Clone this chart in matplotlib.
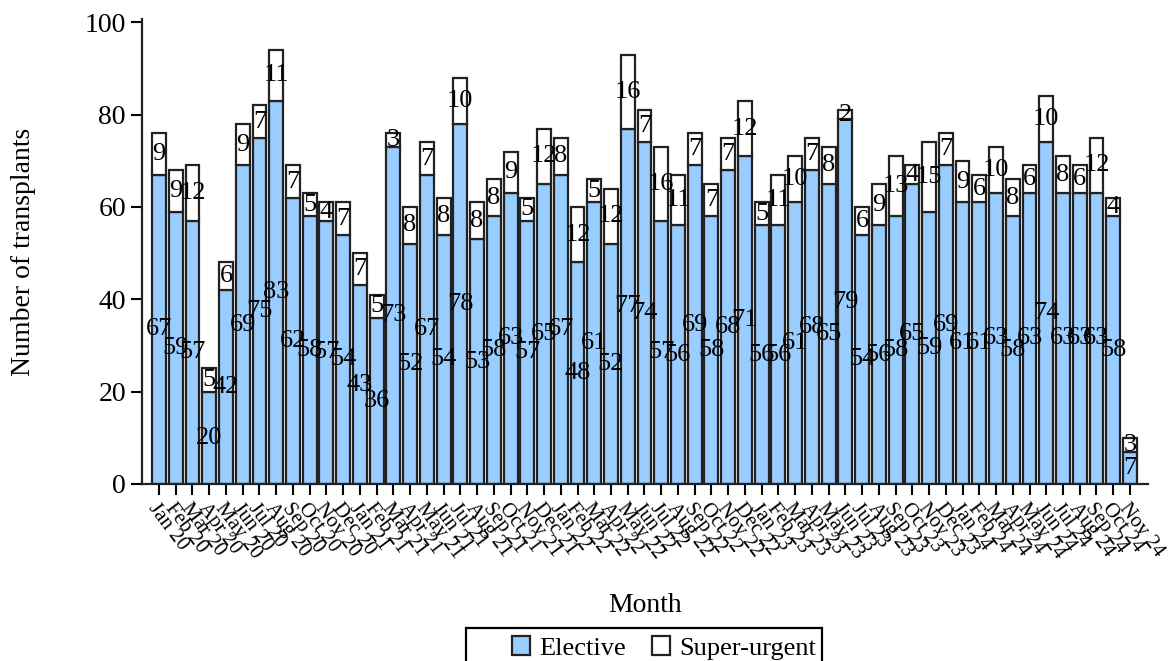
import numpy as np
import matplotlib
matplotlib.use("Agg")
import matplotlib.pyplot as plt
from matplotlib.patches import Rectangle

plt.rcParams['font.family'] = ['Liberation Serif', 'DejaVu Serif']

# month labels Jan 20 .. Nov 24
month_names = ["Jan", "Feb", "Mar", "Apr", "May", "Jun",
               "Jul", "Aug", "Sep", "Oct", "Nov", "Dec"]
years = ["20", "21", "22", "23", "24"]
months = [m + " " + y for y in years for m in month_names][:59]

elective = [67, 59, 57, 20, 42, 69, 75, 83, 62, 58, 57, 54,
            43, 36, 73, 52, 67, 54, 78, 53, 58, 63, 57, 65,
            67, 48, 61, 52, 77, 74, 57, 56, 69, 58, 68, 71,
            56, 56, 61, 68, 65, 79, 54, 56, 58, 65, 59, 69,
            61, 61, 63, 58, 63, 74, 63, 63, 63, 58, 7]
super_urgent = [9, 9, 12, 5, 6, 9, 7, 11, 7, 5, 4, 7,
                7, 5, 3, 8, 7, 8, 10, 8, 8, 9, 5, 12,
                8, 12, 5, 12, 16, 7, 16, 11, 7, 7, 7, 12,
                5, 11, 10, 7, 8, 2, 6, 9, 13, 4, 15, 7,
                9, 6, 10, 8, 6, 10, 8, 6, 12, 4, 3]

x = np.arange(len(months))
elective = np.array(elective)
super_urgent = np.array(super_urgent)

fig = plt.figure(figsize=(11.73, 6.61), dpi=100)
ax = fig.add_axes([0.121, 0.268, 0.858, 0.703])

b1 = ax.bar(x, elective, width=0.83, color="#99CCFF", edgecolor="#222222",
            linewidth=1.6, label="Elective")
b2 = ax.bar(x, super_urgent, width=0.83, bottom=elective, color="white",
            edgecolor="#222222", linewidth=1.6, label="Super-urgent")

# value labels in the middle of each segment
for xi, e, s in zip(x, elective, super_urgent):
    ax.text(xi, e / 2, str(e), ha="center", va="center", fontsize=19)
    ax.text(xi, e + s / 2, str(s), ha="center", va="center", fontsize=19)

ax.set_xlim(-1.02, 59.1)
ax.set_ylim(0, 100.7)
ax.set_yticks([0, 20, 40, 60, 80, 100])
ax.set_xticks(x)
ax.set_xticklabels(months, rotation=-53, ha="left", va="top",
                   rotation_mode="anchor", fontsize=15)
ax.tick_params(axis="y", labelsize=20, length=8, width=1.5)
ax.tick_params(axis="x", length=8, width=1.5)

for side in ["top", "right"]:
    ax.spines[side].set_visible(False)
for side in ["left", "bottom"]:
    ax.spines[side].set_linewidth(1.6)
    ax.spines[side].set_color("#222222")

ax.set_ylabel("Number of transplants", fontsize=20)
ax.yaxis.set_label_coords(-0.105, 0.5)
ax.set_xlabel("Month", fontsize=20, labelpad=22)

# legend, frame drawn separately so it runs off the bottom edge
leg = fig.legend(handles=[b1, b2], loc="center left",
                 bbox_to_anchor=(512 / 1173, 13 / 661), ncol=2, fontsize=19,
                 frameon=False, handlelength=0.7, handleheight=0.7,
                 handletextpad=0.35, columnspacing=0.95,
                 borderpad=0, borderaxespad=0)
fig.patches.append(Rectangle((466 / 1173, -0.03), 356 / 1173, 0.03 + 33 / 661,
                             transform=fig.transFigure, fill=False,
                             edgecolor="black", linewidth=1.6))

fig.savefig("out.png", dpi=100)
